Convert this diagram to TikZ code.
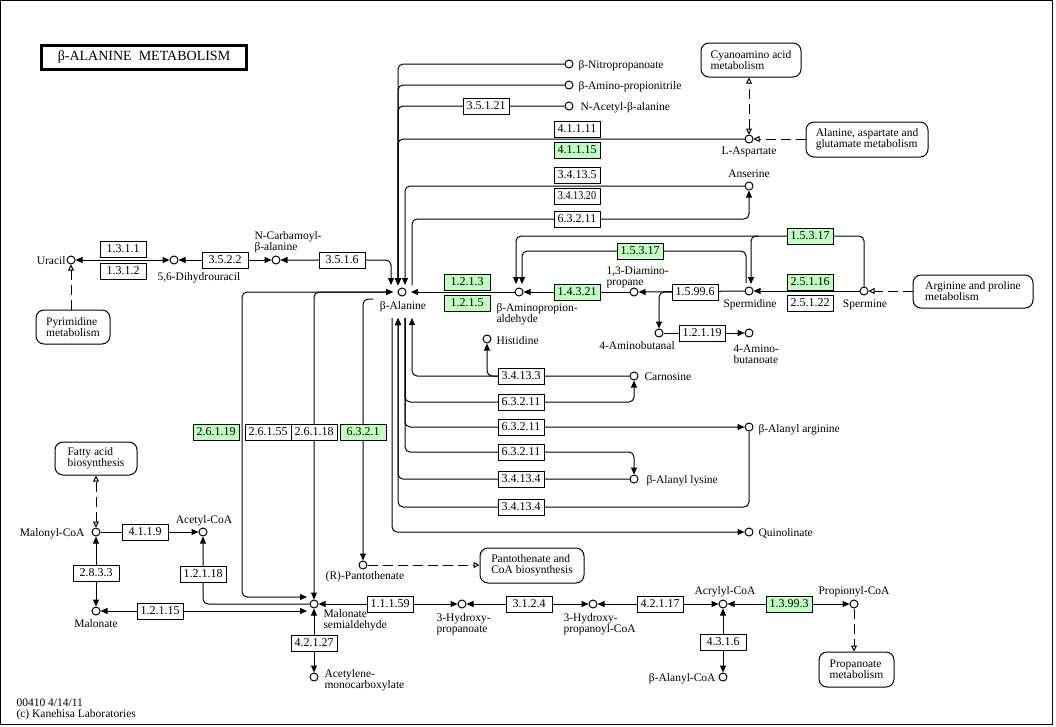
\documentclass[tikz,border=0pt]{standalone}
\usepackage{fontspec}
\setmainfont{Liberation Serif}
\usepackage{graphicx}
\usetikzlibrary{arrows.meta,positioning,backgrounds,calc}
\definecolor{keggreen}{RGB}{191,255,191}
\newcommand{\cpdtext}{\fontsize{11.5}{11}\selectfont}
\newcommand{\ectext}{\fontsize{12}{12}\selectfont}
\newcommand{\titletext}{\fontsize{14}{16}\selectfont}

\begin{document}
\begin{tikzpicture}
[x=1pt, y=-1pt, line width=1pt, >={Triangle[length=7pt,width=6pt]},
otri/.tip={Triangle[open,length=6pt,width=6pt]},
cpd/.style={circle, draw, fill=white, inner sep=0pt, minimum size=8pt},
enz/.style={rectangle, draw, fill=white, inner sep=0pt, minimum width=46pt, minimum height=16pt, font=\ectext},
enzg/.style={enz, fill=keggreen},
mapbox/.style={rectangle, draw, fill=white, rounded corners=8pt, align=left, inner sep=0pt, font=\cpdtext},
lbl/.style={inner sep=0pt, align=left, font=\cpdtext},
flow/.style={rounded corners=5pt},
link/.style={dash pattern=on 10pt off 5pt}]

\useasboundingbox (0,0) rectangle (1056,726);
\draw (0.5,0.5) rectangle (1052,724.5);
\node[draw, line width=3pt, minimum width=205pt, minimum height=24pt, inner sep=0pt, font=\titletext] (title) at (144,57.5) {β-ALANINE\hspace{0.5em}METABOLISM};

% compounds
\node[cpd] (nitro) at (569,64) {};
\node[lbl, anchor=base west] (nitro-t) at (578,68) {β-Nitropropanoate};
\node[cpd] (aminoprop) at (569,85) {};
\node[lbl, anchor=base west] (aminoprop-t) at (578,89) {β-Amino-propionitrile};
\node[cpd] (acetylbala) at (569,106) {};
\node[lbl, anchor=base west] (acetylbala-t) at (580,110) {N-Acetyl-β-alanine};
\node[cpd] (asp) at (749,139) {};
\node[lbl, anchor=base] (asp-t) at (749,154) {L-Aspartate};
\node[cpd] (anserine) at (749,186) {};
\node[lbl, anchor=base] (anserine-t) at (749,177) {Anserine};
\node[cpd] (uracil) at (71,260) {};
\node[lbl, anchor=base east] (uracil-t) at (66,264) {Uracil};
\node[cpd] (dihydro) at (174,260) {};
\node[lbl, anchor=base west] (dihydro-t) at (157,280) {5,6-Dihydrouracil};
\node[cpd] (ncarb) at (276,260) {};
\node[lbl, anchor=north west] (ncarb-t) at (254,231) {N-Carbamoyl-\\β-alanine};
\node[cpd] (bala) at (402,292) {};
\node[lbl, anchor=base] (bala-t) at (403,309) {β-Alanine};
\node[cpd] (bapa) at (519,292) {};
\node[lbl, anchor=north west] (bapa-t) at (496,303) {β-Aminopropion-\\aldehyde};
\node[cpd] (dap) at (634,292) {};
\node[lbl, anchor=north west] (dap-t) at (606,266) {1,3-Diamino-\\propane};
\node[cpd] (spd) at (749,291) {};
\node[lbl, anchor=base] (spd-t) at (750,307) {Spermidine};
\node[cpd] (spm) at (864,291) {};
\node[lbl, anchor=base] (spm-t) at (865,307) {Spermine};
\node[cpd] (aminobutanal) at (659,333) {};
\node[lbl, anchor=base] (aminobutanal-t) at (637,349) {4-Aminobutanal};
\node[cpd] (gaba) at (749,333) {};
\node[lbl, anchor=north west] (gaba-t) at (733,344) {4-Amino-\\butanoate};
\node[cpd] (histidine) at (487,339) {};
\node[lbl, anchor=base west] (histidine-t) at (496,344) {Histidine};
\node[cpd] (carnosine) at (634,376) {};
\node[lbl, anchor=base west] (carnosine-t) at (644,380) {Carnosine};
\node[cpd] (balarg) at (749,427) {};
\node[lbl, anchor=base west] (balarg-t) at (758,432) {β-Alanyl arginine};
\node[cpd] (balys) at (634,479) {};
\node[lbl, anchor=base west] (balys-t) at (646,483) {β-Alanyl lysine};
\node[cpd] (quin) at (749,532) {};
\node[lbl, anchor=base west] (quin-t) at (758,536) {Quinolinate};
\node[cpd] (pant) at (363,565) {};
\node[lbl, anchor=base] (pant-t) at (365,579) {(R)-Pantothenate};
\node[cpd] (malcoa) at (96,532) {};
\node[lbl, anchor=base east] (malcoa-t) at (85,536) {Malonyl-CoA};
\node[cpd] (acecoa) at (203,532) {};
\node[lbl, anchor=base] (acecoa-t) at (204,523) {Acetyl-CoA};
\node[cpd] (malonate) at (96,611) {};
\node[lbl, anchor=base] (malonate-t) at (96,627) {Malonate};
\node[cpd] (msa) at (314,604) {};
\node[lbl, anchor=north west] (msa-t) at (323,609) {Malonate\\semialdehyde};
\node[cpd] (acmc) at (314,677) {};
\node[lbl, anchor=north west] (acmc-t) at (324,669) {Acetylene-\\monocarboxylate};
\node[cpd] (hp) at (462,604) {};
\node[lbl, anchor=north west] (hp-t) at (436,613) {3-Hydroxy-\\propanoate};
\node[cpd] (hpcoa) at (593,604) {};
\node[lbl, anchor=north west] (hpcoa-t) at (563,613) {3-Hydroxy-\\propanoyl-CoA};
\node[cpd] (acrcoa) at (723,604) {};
\node[lbl, anchor=base] (acrcoa-t) at (725,594) {Acrylyl-CoA};
\node[cpd] (propcoa) at (854,604) {};
\node[lbl, anchor=base] (propcoa-t) at (854,594) {Propionyl-CoA};
\node[cpd] (balacoa) at (723,677) {};
\node[lbl, anchor=base east] (balacoa-t) at (716,681) {β-Alanyl-CoA};

% other maps
\node[mapbox, minimum width=100pt, minimum height=34pt] (cyano) at (751,60) {Cyanoamino acid\\metabolism};
\node[mapbox, minimum width=122pt, minimum height=35pt] (alaasp) at (867,139.5) {Alanine, aspartate and\\glutamate metabolism};
\node[mapbox, minimum width=120pt, minimum height=33pt] (argpro) at (973,291.5) {Arginine and proline\\metabolism};
\node[mapbox, minimum width=74pt, minimum height=34pt] (pyrimidine) at (73,327) {Pyrimidine\\metabolism};
\node[mapbox, minimum width=82pt, minimum height=33pt] (fatty) at (96,458.5) {Fatty acid\\biosynthesis};
\node[mapbox, minimum width=104pt, minimum height=35pt] (pantcoa) at (532,565.5) {Pantothenate and\\CoA biosynthesis};
\node[mapbox, minimum width=75pt, minimum height=35pt] (propanoate) at (856.5,669.5) {Propanoate\\metabolism};

% enzymes
\node[enz] (e13111) at (123,249) {1.3.1.1};
\node[enz] (e13112) at (123,271) {1.3.1.2};
\node[enz] (e3522) at (225,260) {3.5.2.2};
\node[enz] (e3516) at (342,260) {3.5.1.6};
\node[enz] (e35121) at (486,106) {3.5.1.21};
\node[enz] (e41111) at (577,129) {4.1.1.11};
\node[enzg] (e41115) at (577,150) {4.1.1.15};
\node[enz] (e34135) at (577,175) {3.4.13.5};
\node[enz] (e341320) at (577,196) {\scalebox{0.85}[1]{3.4.13.20}};
\node[enz] (e63211a) at (577,219) {6.3.2.11};
\node[enzg] (e1213) at (467,282) {1.2.1.3};
\node[enzg] (e1215) at (467,303) {1.2.1.5};
\node[enzg] (e15317a) at (640,251) {1.5.3.17};
\node[enzg] (e14321) at (577,292) {1.4.3.21};
\node[enz] (e15996) at (695,292) {1.5.99.6};
\node[enzg] (e15317b) at (810,236) {1.5.3.17};
\node[enzg] (e25116) at (810,282) {2.5.1.16};
\node[enz] (e25122) at (810,303) {2.5.1.22};
\node[enz] (e12119) at (702,333) {1.2.1.19};
\node[enz] (e34133) at (521,376) {3.4.13.3};
\node[enz] (e63211b) at (521,402) {6.3.2.11};
\node[enz] (e63211c) at (521,427) {6.3.2.11};
\node[enz] (e63211d) at (521,452) {6.3.2.11};
\node[enz] (e34134a) at (521,479) {3.4.13.4};
\node[enz] (e34134b) at (521,507) {3.4.13.4};
\node[enzg] (e26119) at (216,432) {2.6.1.19};
\node[enz] (e26155) at (268,432) {2.6.1.55};
\node[enz] (e26118) at (314,432) {2.6.1.18};
\node[enzg] (e6321) at (363,432) {6.3.2.1};
\node[enz] (e4119) at (145,532) {4.1.1.9};
\node[enz] (e12118) at (203,574) {1.2.1.18};
\node[enz] (e2833) at (96,573) {2.8.3.3};
\node[enz] (e12115) at (160,611) {1.2.1.15};
\node[enz] (e11159) at (390,604) {1.1.1.59};
\node[enz] (e3124) at (529,604) {3.1.2.4};
\node[enz] (e42117) at (660,604) {4.2.1.17};
\node[enzg] (e13993) at (789,604) {1.3.99.3};
\node[enz] (e4316) at (723,642) {4.3.1.6};
\node[enz] (e42127) at (314,643) {4.2.1.27};

\node[lbl, anchor=north west] (mapid) at (16,698) {00410 4/14/11\\(c) Kanehisa Laboratories};

% ends of lines round beta-alanine
\coordinate (bTa) at (391,285);
\coordinate (bTb) at (398,285);
\coordinate (bTc) at (405,285);
\coordinate (bTd) at (412,285);
\coordinate (bBa) at (392,318);
\coordinate (bBb) at (398,318);
\coordinate (bBc) at (405,318);
\coordinate (bBd) at (412,318);
\coordinate (bW) at (393,292);
\coordinate (bE) at (411,292);
\coordinate (bWp) at (373,299);
\coordinate (msaW) at (307,597);
\coordinate (msaWb) at (307,611);
\coordinate (spdNa) at (751,284);
\coordinate (spdNb) at (746,283);
\coordinate (bapaNa) at (516,284);
\coordinate (bapaNb) at (522,284);
\coordinate (spdFork) at (758,236);

\begin{scope}[on background layer={line width=1pt}]
\draw[<->] (uracil) -- (dihydro);
\draw[<->] (dihydro) -- (ncarb);
\draw[<->, flow] (ncarb) -| (bTa);
\draw[->, flow] (nitro) -| (bTb);
\draw[->, flow] (aminoprop) -| (bTb);
\draw[->, flow] (acetylbala) -| (bTb);
\draw[->, flow] (asp) -| (bTb);
\draw[->, flow] (anserine) -| (bTc);
\draw[->, flow] (bTd) |- (anserine |- e63211a) -- (anserine);
\draw[->] (bapa) -- (bE);
\draw[->] (dap) -- (bapa);
\draw[->] (spd) -- (dap);
\draw[->, flow] (e15996.west) -| (aminobutanal);
\draw[->] (aminobutanal) -- (gaba);
\draw[->] (spm) -- (spd);
\draw[->, flow] (spm) -- (spm |- e15317b) -| (bapaNa);
\draw[->, flow] (spdFork) -| (spdNa);
\draw[->, flow] (spdNb) |- (bapaNb |- e15317a) -- (bapaNb);
% below beta-alanine
\draw[->, flow] (carnosine) -| (bBd);
\draw[->, flow] (e34133.west) -| (histidine);
\draw[->, flow] (bBc) |- (carnosine |- e63211b) -- (carnosine);
\draw[->, flow] (bBc) |- (balarg);
\draw[->, flow] (bBc) |- (balys |- e63211d) -- (balys);
\draw[->, flow] (balys) -| (bBb);
\draw[->, flow] (balarg) -- (balarg |- e34134b) -| (bBb);
\draw[->, flow] (bBa) |- (quin);
% left of beta-alanine
\draw[<->, flow] (bW) -| (242,597) -- (msaW);
\draw[<->, flow] (bW) -| (msa);
\draw[->, flow] (bWp) -| (pant);
% malonate semialdehyde
\draw[->, flow] (msa) -| (acecoa);
\draw[<->] (msaWb) -- (malonate);
\draw[<->] (malonate) -- (malcoa);
\draw[->] (malcoa) -- (acecoa);
\draw[<->] (msa) -- (acmc);
\draw[<->] (hp) -- (msa);
\draw[<->] (hpcoa) -- (hp);
\draw[<->] (acrcoa) -- (hpcoa);
\draw[<->] (propcoa) -- (acrcoa);
\draw[<->] (balacoa) -- (acrcoa);
% links to other maps
\draw[link, otri-otri] (asp) -- (asp |- cyano.south);
\draw[link, -otri] (alaasp.west |- asp) -- (asp);
\draw[link, -otri] (argpro.west |- spm) -- (spm);
\draw[link, -otri] (pyrimidine.north -| uracil) -- (uracil);
\draw[link, otri-otri] (malcoa) -- (malcoa |- fatty.south);
\draw[link, -otri] (pant) -- (pantcoa.west |- pant);
\draw[link, -otri] (propcoa) -- (propcoa |- propanoate.north);
\end{scope}

\end{tikzpicture}
\end{document}
